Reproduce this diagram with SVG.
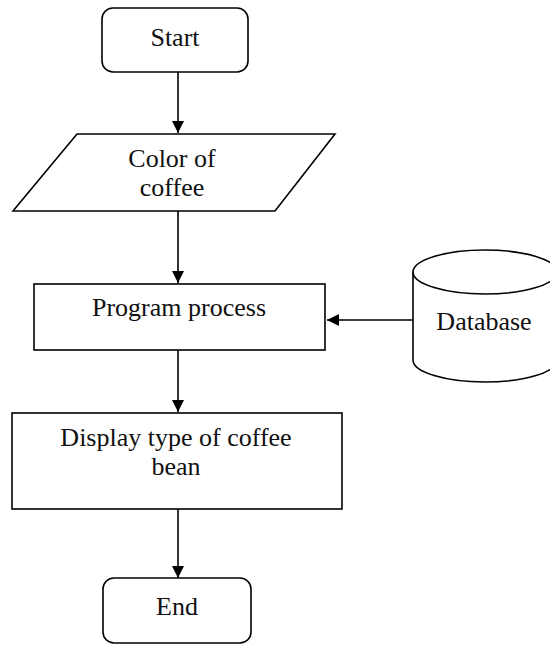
<svg xmlns="http://www.w3.org/2000/svg" width="550" height="645" viewBox="0 0 550 645">
<defs>
<style>
.s{fill:#fff;stroke:#000;stroke-width:1.6}
.t{font-family:"Liberation Serif","Times New Roman",serif;font-size:26px;fill:#111;text-anchor:middle}
.c{stroke:#000;stroke-width:1.6;fill:none;marker-end:url(#ah)}
</style>
<marker id="ah" viewBox="0 0 10 10" refX="10" refY="5" markerWidth="12" markerHeight="12" markerUnits="userSpaceOnUse" orient="auto">
<path d="M0,0 L10,5 L0,10 z" fill="#000"/>
</marker>
</defs>
<rect width="550" height="645" fill="#fff"/>
<g id="connectors">
<line class="c" x1="178" y1="72" x2="178" y2="133"/>
<line class="c" x1="178" y1="211" x2="178" y2="283"/>
<line class="c" x1="178" y1="350" x2="178" y2="412"/>
<line class="c" x1="178" y1="509" x2="178" y2="578"/>
<line class="c" x1="413" y1="320" x2="327" y2="320"/>
</g>
<g id="start">
<rect class="s" x="102" y="8" width="146" height="64" rx="11"/>
<text class="t" x="175" y="46">Start</text>
</g>
<g id="color">
<polygon class="s" points="77,134 335,134 275,211 13,211"/>
<text class="t" x="172" y="167">Color of</text>
<text class="t" x="172" y="196">coffee</text>
</g>
<g id="process">
<rect class="s" x="34" y="284" width="291" height="66"/>
<text class="t" x="179" y="316">Program process</text>
</g>
<g id="database">
<path class="s" d="M413,272 L413,360 A72,22 0 0 0 557,360 L557,272"/>
<ellipse class="s" cx="485" cy="272" rx="72" ry="22"/>
<text class="t" x="484" y="330">Database</text>
</g>
<g id="display">
<rect class="s" x="12" y="413" width="330" height="96"/>
<text class="t" x="176" y="446">Display type of coffee</text>
<text class="t" x="176" y="475">bean</text>
</g>
<g id="end">
<rect class="s" x="103" y="578" width="148" height="65" rx="11"/>
<text class="t" x="177" y="615">End</text>
</g>
</svg>
